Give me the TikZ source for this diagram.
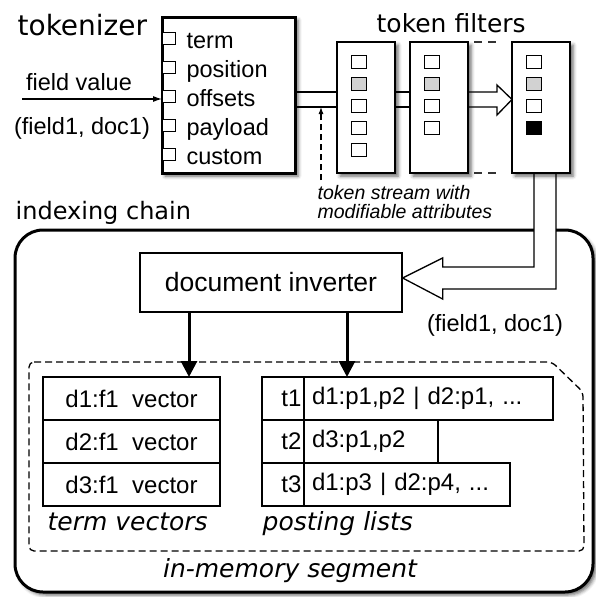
\documentclass[tikz,border=0pt]{standalone}
\usepackage{fontspec}
\setmainfont{Liberation Sans}
\newfontfamily\dejavu{DejaVu Sans}
\usetikzlibrary{shapes,arrows.meta,positioning,calc,shadows.blur}

\begin{document}
\begin{tikzpicture}[
    x=1pt, y=-1pt,
    line width=1.3pt,
    shadowed/.style={blur shadow={shadow xshift=3pt, shadow yshift=-3pt, shadow blur radius=3.5pt, shadow opacity=60}},
    tokbox/.style={draw, fill=white, line width=3pt, outer sep=0pt, minimum width=133pt, minimum height=156pt, shadowed},
    filterbox/.style={draw, fill=white, outer sep=0pt, minimum width=58pt, minimum height=131pt, shadowed},
    attr/.style={draw, line width=0.9pt, fill=white, inner sep=0pt, minimum width=13pt, minimum height=12pt},
    slot/.style={draw, line width=0.9pt, inner sep=0pt, minimum width=15pt, minimum height=13pt},
    txt/.style={inner sep=0pt, font=\fontsize{23.5}{26}\selectfont},
    title/.style={inner sep=0pt, font=\dejavu\fontsize{25}{28}\selectfont},
    caption/.style={inner sep=0pt, font=\dejavu\itshape\fontsize{25}{28}\selectfont},
    cell/.style={draw, outer sep=0pt, inner sep=0pt, minimum height=43pt, font=\fontsize{24}{26}\selectfont},
    bigarrow/.style={-{Triangle[width=16pt,length=16pt]}, line width=3pt}
]
\useasboundingbox (0,0) rectangle (595,597);

% Indexing chain frame
\node [draw, fill=white, line width=3pt, rounded corners=28pt, outer sep=0pt, minimum width=578pt, minimum height=362pt, shadowed] (chain) at (304,411) {};
\node [title, anchor=base west, font=\dejavu\fontsize{24}{28}\selectfont] (chaintitle) at (15,219) {indexing chain};

% Tokenizer
\node [tokbox] (tok) at (228.5,95) {};
\node [title, anchor=base west, font=\dejavu\fontsize{28}{32}\selectfont] (toktitle) at (17,35) {tokenizer};
\foreach \name [count=\i from 0] in {term,position,offsets,payload,custom} {
    \node [attr, anchor=west] (a\i) at ($(tok.north west)+(0,21+29*\i)$) {};
    \node [txt, anchor=base west] (n\i) at ($(a\i.center)+(17,10)$) {\name};
}

% Input
\coordinate (fieldin) at (22,99);
\draw [-{Latex[length=9pt,width=6pt]}, line width=1.1pt] (fieldin) -- (tok.west |- fieldin);
\node [txt] (value) at (79,82) {field value};
\node [txt] (doc) at (82,128) {(field1, doc1)};

% Filters
\node [filterbox] (flt1) at (366,107.5) {};
\node [filterbox] (flt2) at (439,107.5) {};
\node [filterbox] (flt3) at (541,107.5) {};
\foreach \c [count=\i from 0] in {white,gray!35,white,white,white}
    \node [slot, fill=\c] (s1\i) at ($(flt1.north)+(-7,20+22*\i)$) {};
\foreach \c [count=\i from 0] in {white,gray!35,white,white}
    \node [slot, fill=\c] (s2\i) at ($(flt2.north)+(-7,20+22*\i)$) {};
\foreach \c [count=\i from 0] in {white,gray!35,white,black}
    \node [slot, fill=\c] (s3\i) at ($(flt3.north)+(-7,20+22*\i)$) {};
\node [title, anchor=base west] (flttitle) at (376,32) {token filters};

% Token stream
\coordinate (bt) at (0,92);
\coordinate (bb) at (0,107);
\draw (tok.east |- bt) -- (flt1.west |- bt) (tok.east |- bb) -- (flt1.west |- bb);
\draw (flt1.east |- bt) -- (flt2.west |- bt) (flt1.east |- bb) -- (flt2.west |- bb);
\coordinate (tip) at ($(flt3.west |- bt)!0.5!(flt3.west |- bb)$);
\draw (flt2.east |- bt) -- ($(tip |- bt)+(-15,0)$) -- ++(0,-7) -- (tip)
      -- ($(tip |- bb)+(-15,8)$) -- ++(0,-8) -- (flt2.east |- bb);
\draw [dash pattern=on 8pt off 6pt, dash phase=8pt, draw=black!80] (flt2.north east) -- ++(29,0) (flt2.south east) -- ++(29,0);

\node [anchor=north west, align=left, inner sep=0pt, font=\itshape\fontsize{19.5}{19}\selectfont] (note) at (317,185)
    {token stream with\\modifiable attributes};
\coordinate (stream) at (321,107);
\draw [dash pattern=on 6pt off 4pt, -{Latex[length=7pt,width=5pt]}, line width=1.1pt] ($(note.north -| stream)+(0,-5)$) -- (stream);

% Document inverter
\node [draw, minimum width=262pt, minimum height=59pt, font=\fontsize{26.5}{30}\selectfont] (inverter) at (271,282.5) {document inverter};
\coordinate (in) at ([yshift=4.5pt]inverter.east);
\fill [white] ($(flt3.south)+(-7,50)$) rectangle ($(flt3.south)+(15,65)$);
\draw ([xshift=-7pt]flt3.south) |- ($(in)+(40,-11)$) -- ++(0,-9) -- (in)
      -- ($(in)+(40,21)$) -- ++(0,-10) -| ([xshift=15pt]flt3.south);
\node [txt] (doc2) at (495,325) {(field1, doc1)};

% In-memory segment
\draw [dash pattern=on 7pt off 4pt, rounded corners=5pt] (29,362) -- (552,362) -- (583,392) -- (584,551) -- (29,551) -- cycle;

\node [cell, minimum width=177pt] (tv1) at (131.5,398.5) {d1:f1\ \ vector};
\node [cell, minimum width=177pt, below=0pt of tv1] (tv2) {d2:f1\ \ vector};
\node [cell, minimum width=177pt, below=0pt of tv2] (tv3) {d3:f1\ \ vector};

\node [cell, minimum width=42pt, text width=37pt, align=right] (t1) at (283,398.5) {t1};
\node [cell, anchor=west, minimum width=249pt, text width=233pt, align=left] (p1) at (t1.east) {d1:p1,p2 | d2:p1, ...};
\node [cell, minimum width=42pt, text width=37pt, align=right, below=0pt of t1] (t2) {t2};
\node [cell, anchor=west, minimum width=134pt, text width=118pt, align=left] (p2) at (t2.east) {d3:p1,p2};
\node [cell, minimum width=42pt, text width=37pt, align=right, below=0pt of t2] (t3) {t3};
\node [cell, anchor=west, minimum width=206pt, text width=190pt, align=left] (p3) at (t3.east) {d1:p3 | d2:p4, ...};

\node [caption, anchor=base west] (tvcap) at (47,530) {term vectors};
\node [caption, anchor=base west] (plcap) at (262,530) {posting lists};
\node [caption, anchor=base] (segcap) at (290,577) {in-memory segment};

% Inverter outputs
\coordinate (tvin) at ([xshift=-82pt]inverter.south);
\coordinate (plin) at ([xshift=76pt]inverter.south);
\draw [bigarrow] (tvin) -- (tvin |- tv1.north);
\draw [bigarrow] (plin) -- (plin |- p1.north);

\end{tikzpicture}
\end{document}
